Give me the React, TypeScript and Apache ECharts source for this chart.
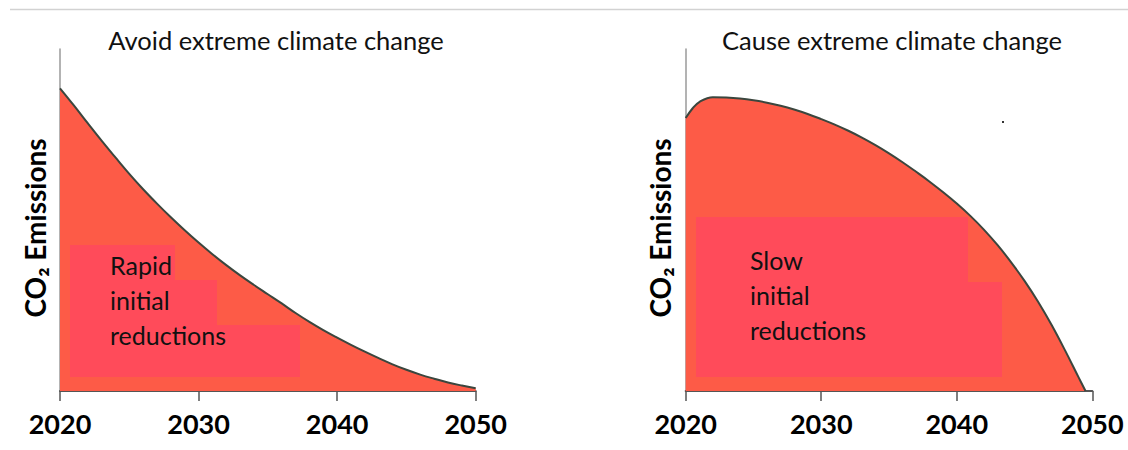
import React, { useEffect, useRef } from "react";
import * as echarts from "echarts";

// Left panel: "Avoid extreme climate change"
const leftYears = [2020, 2021, 2022, 2023, 2024, 2025, 2026, 2027, 2028, 2029, 2030, 2031, 2032, 2033, 2034, 2035, 2036, 2037, 2038, 2039, 2040, 2041, 2042, 2043, 2044, 2045, 2046, 2047, 2048, 2049, 2050];
const leftValues = [88.5, 83.5, 78.3, 73.2, 68.3, 63.5, 59, 54.8, 50.8, 47, 43.4, 40, 36.8, 33.8, 31, 28.3, 25.6, 22.8, 20.2, 17.8, 15.6, 13.5, 11.5, 9.6, 7.8, 6.2, 4.8, 3.6, 2.5, 1.6, 0.8];

// Right panel: "Cause extreme climate change"
const rightYears = [2020, 2020.5, 2021, 2022, 2023, 2024, 2025, 2026, 2027, 2028, 2029, 2030, 2031, 2032, 2033, 2034, 2035, 2036, 2037, 2038, 2039, 2040, 2041, 2042, 2043, 2044, 2045, 2046, 2047, 2048, 2049, 2049.5];
const rightValues = [79.8, 82.6, 84.5, 85.9, 85.8, 85.5, 85.0, 84.3, 83.4, 82.3, 81.0, 79.5, 77.9, 76.1, 74.1, 71.9, 69.5, 66.9, 64.1, 61.2, 58.1, 54.8, 51.2, 47.2, 42.7, 37.7, 32.2, 26.1, 19.3, 11.8, 3.9, 0];

const xTicks = [2020, 2030, 2040, 2050];
const titles = ["Avoid extreme climate change", "Cause extreme climate change"];
const yName = "CO\u2082 Emissions";
const leftNote = ["Rapid", "initial", "reductions"];
const rightNote = ["Slow", "initial", "reductions"];

const FONT = "Lato, 'Noto Sans', sans-serif";
const FILL = "#fd5b47";
const PINK = "#ff4b5a";
const LINE = "#3b463e";

function App() {
  const ref = useRef<HTMLDivElement>(null);
  useEffect(() => {
    if (!ref.current) return;
    const chart = echarts.init(ref.current, null, { renderer: "svg" });
    const pair = (xs: number[], ys: number[]) => xs.map((x, i) => [x, ys[i]]);
    const xAxisBase = (gi: number) => ({
      type: "value",
      gridIndex: gi,
      min: xTicks[0],
      max: xTicks[xTicks.length - 1],
      interval: 10,
      axisLine: { show: true, onZero: false, lineStyle: { color: "#555", width: 2 } },
      axisTick: { show: true, length: 10, lineStyle: { color: "#555", width: 1.5 } },
      axisLabel: {
        color: "#000",
        fontFamily: FONT,
        fontSize: 27,
        fontWeight: "bold",
        margin: 19,
        formatter: (v: number) => String(v),
      },
      splitLine: { show: false },
    });
    const yAxisBase = (gi: number) => ({
      type: "value",
      gridIndex: gi,
      min: 0,
      max: 100,
      axisLine: { show: true, lineStyle: { color: "#9a9a9a", width: 1.5 } },
      axisTick: { show: false },
      axisLabel: { show: false },
      splitLine: { show: false },
    });
    const seriesBase = (gi: number, data: number[][]) => ({
      type: "line",
      xAxisIndex: gi,
      yAxisIndex: gi,
      data,
      smooth: 0.4,
      symbol: "none",
      lineStyle: { color: LINE, width: 2 },
      areaStyle: { color: FILL, opacity: 1, origin: "start" },
      z: 2,
    });
    const noteText = (lines: string[], x: number, y0: number) =>
      lines.map((t, i) => ({
        type: "text",
        x,
        y: y0 + i * 35,
        z: 20,
        style: { text: t, fill: "#111", font: `25px ${FONT}`, verticalAlign: "middle", align: "left" },
      }));
    const rect = (x: number, y: number, w: number, h: number) => ({
      type: "rect",
      shape: { x, y, width: w, height: h },
      z: 10,
      style: { fill: PINK },
    });
    chart.setOption({
      animation: false,
      grid: [
        { left: 60, top: 49, width: 415.7, height: 342 },
        { left: 685.7, top: 49, width: 406.6, height: 342 },
      ],
      xAxis: [xAxisBase(0), xAxisBase(1)],
      yAxis: [yAxisBase(0), yAxisBase(1)],
      series: [seriesBase(0, pair(leftYears, leftValues)), seriesBase(1, pair(rightYears, rightValues))],
      graphic: [
        { type: "line", shape: { x1: 10, y1: 9.5, x2: 1128, y2: 9.5 }, style: { stroke: "#d2d2d2", lineWidth: 1.5 } },
        { type: "text", x: 276, y: 40, style: { text: titles[0], fill: "#111", font: `25.5px ${FONT}`, align: "center", verticalAlign: "middle" } },
        { type: "text", x: 892, y: 40, style: { text: titles[1], fill: "#111", font: `25.5px ${FONT}`, align: "center", verticalAlign: "middle" } },
        { type: "text", x: 35, y: 228, rotation: Math.PI / 2, style: { text: yName, fill: "#000", font: `bold 28px ${FONT}`, align: "center", verticalAlign: "middle" } },
        { type: "text", x: 660, y: 228, rotation: Math.PI / 2, style: { text: yName, fill: "#000", font: `bold 28px ${FONT}`, align: "center", verticalAlign: "middle" } },
        rect(70, 245, 105, 36),
        rect(70, 280, 147, 46),
        rect(70, 325, 230, 52),
        rect(696, 217, 272, 66),
        rect(696, 282, 306, 95),
        ...noteText(leftNote, 110, 265),
        ...noteText(rightNote, 750, 260),
        { type: "rect", shape: { x: 1002, y: 121, width: 2, height: 2 }, style: { fill: "#333" } },
      ],
    });
    return () => chart.dispose();
  }, []);
  return <div ref={ref} style={{ position: "absolute", left: 0, top: 0, width: 1128, height: 450 }} />;
}

export default App;
